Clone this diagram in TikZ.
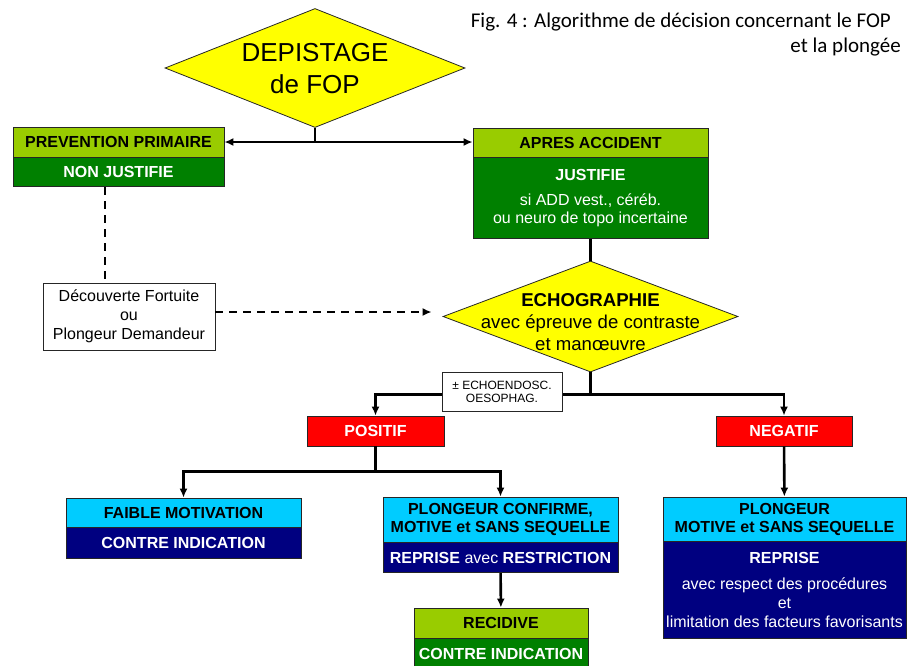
\documentclass[tikz,border=0pt]{standalone}
\usepackage{fontspec}
\setmainfont{Liberation Sans}
\newfontfamily\capfont{Carlito}
\usetikzlibrary{arrows.meta,positioning,shapes.geometric}
\definecolor{foplime}{RGB}{153,204,0}
\definecolor{fopgreen}{RGB}{0,128,0}
\definecolor{fopcyan}{RGB}{0,204,255}
\definecolor{fopnavy}{RGB}{0,0,128}
\definecolor{fopred}{RGB}{255,0,0}
\definecolor{fopyellow}{RGB}{255,255,0}

\begin{document}
\begin{tikzpicture}[x=1pt,y=-1pt,>={Latex[length=9pt,width=8pt]},
    box/.style={draw=black!85,line width=0.8pt,inner sep=0pt,align=center,
      font=\bfseries\fontsize{16}{18}\selectfont},
    limebox/.style={box,fill=foplime},
    greenbox/.style={box,fill=fopgreen,text=white},
    cyanbox/.style={box,fill=fopcyan},
    navybox/.style={box,fill=fopnavy,text=white},
    redbox/.style={box,fill=fopred,text=white},
    notebox/.style={box,fill=white,line width=0.6pt},
    decision/.style={diamond,draw=black!85,line width=0.8pt,fill=fopyellow,inner sep=0pt},
    wire/.style={line width=2.6pt},
    link/.style={wire,->},
    dashlink/.style={line width=2.4pt,dash pattern=on 7.5pt off 6.5pt}]
  \useasboundingbox (0,0) rectangle (917,665);

  % caption
  \node[anchor=north east,align=right,inner sep=0pt,font=\capfont\fontsize{21}{25}\selectfont]
    (cap) at (901,13) {Fig. 4 : Algorithme de décision concernant le FOP\hspace*{10pt}\\et la plongée};

  % top decision
  \node[decision,minimum width=300pt,minimum height=119pt] (dep) at (315,68) {};
  \node[align=center,font=\fontsize{26}{32}\selectfont] (deptxt) at ([yshift=-1pt]dep.center) {DEPISTAGE\\de FOP};

  \node[limebox,minimum width=211pt,minimum height=30pt] (pp) at (118.5,142) {PREVENTION PRIMAIRE};
  \node[greenbox,minimum width=211pt,minimum height=29pt,below=0pt of pp] (ppb) {NON JUSTIFIE};
  \node[limebox,minimum width=235pt,minimum height=29pt] (aa) at (590.5,142.5) {APRES ACCIDENT};
  \node[greenbox,minimum width=235pt,minimum height=81pt,below=0pt of aa] (aab)
    {JUSTIFIE\\[7pt]\mdseries si ADD vest., céréb.\\\mdseries ou neuro de topo incertaine};

  \node[notebox,font=\fontsize{16}{19}\selectfont,minimum width=172pt,minimum height=67pt]
    (dec) at (129,316.5) {Découverte Fortuite\\ou\\Plongeur Demandeur};

  % echographie
  \node[decision,minimum width=295pt,minimum height=111pt] (echo) at (590.5,316.5) {};
  \node[align=center,font=\fontsize{18.6}{22}\selectfont] (echotxt) at ([yshift=-6pt]echo.center)
    {\textbf{ECHOGRAPHIE}\\avec épreuve de contraste\\et manœuvre};

  \node[redbox,minimum width=137pt,minimum height=30pt] (pos) at (375.5,431) {POSITIF};
  \node[redbox,minimum width=136pt,minimum height=30pt] (neg) at (784,431) {NEGATIF};

  % outcomes
  \node[cyanbox,minimum width=235pt,minimum height=29pt] (fm) at (183.5,512.5) {FAIBLE MOTIVATION};
  \node[navybox,minimum width=235pt,minimum height=31pt,below=0pt of fm] (fmb) {CONTRE INDICATION};
  \node[cyanbox,minimum width=235pt,minimum height=45pt] (pc) at (500.5,519.5)
    {PLONGEUR CONFIRME,\\MOTIVE et SANS SEQUELLE};
  \node[navybox,minimum width=235pt,minimum height=30pt,below=0pt of pc] (pcb)
    {REPRISE {\mdseries avec} RESTRICTION};
  \node[limebox,minimum width=174pt,minimum height=30pt] (rec) at (501,623) {RECIDIVE};
  \node[greenbox,minimum width=174pt,minimum height=30pt,below=0pt of rec] (recb) {CONTRE INDICATION};
  \node[cyanbox,minimum width=243pt,minimum height=44pt] (pm) at (784.5,519)
    {PLONGEUR\\MOTIVE et SANS SEQUELLE};
  \node[navybox,font=\bfseries\fontsize{16}{19}\selectfont,minimum width=243pt,minimum height=97pt,below=0pt of pm] (pmb)
    {REPRISE\\[7pt]\mdseries avec respect des procédures\\\mdseries et\\\mdseries limitation des facteurs favorisants};

  % connectors
  \draw[wire] (dep.south) -- (dep.south |- pp.east);
  \draw[link,<->] (pp.east) -- (pp.east -| aa.west);
  \draw[wire] (aab) -- (echo);
  \draw[dashlink] ([xshift=-13.5pt]ppb.south) -- ([xshift=-24pt]dec.north);
  \draw[dashlink,->] ([yshift=4.5pt]dec.east) -- ([xshift=-11pt,yshift=4.5pt]echo.west);
  \draw[wire] (echo.south) -- ++(0,22) coordinate (j2);
  \draw[link] (j2) -| (pos.north);
  \draw[link] (j2) -| (neg.north);
  \draw[wire] (pos.south) -- ++(0,25) coordinate (j3);
  \draw[link] (j3) -| (fm.north);
  \draw[link] (j3) -| (pc.north);
  \draw[link] (neg) -- (pm);
  \draw[link] (pcb) -- (rec);

  \node[notebox,font=\fontsize{12}{13}\selectfont,minimum width=120pt,minimum height=39pt]
    (ech) at (502,391.5) {± ECHOENDOSC.\\OESOPHAG.};
\end{tikzpicture}
\end{document}
